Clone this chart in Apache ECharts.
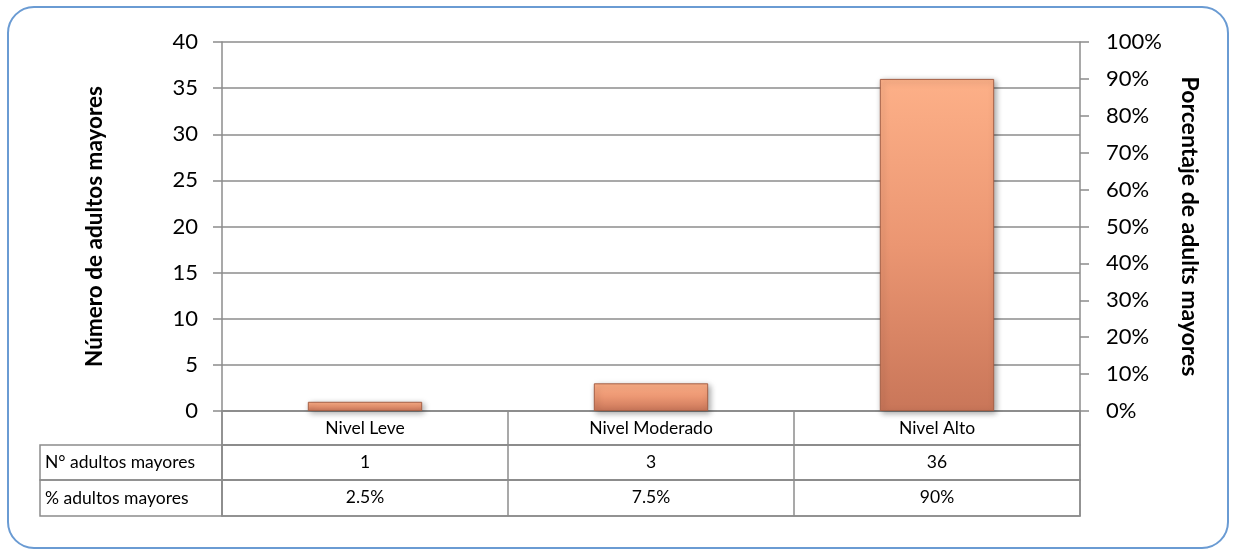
<!DOCTYPE html>
<html>
<head>
<meta charset="utf-8">
<script src="https://cdn.jsdelivr.net/npm/echarts@6/dist/echarts.min.js"></script>
<style>
  html, body { margin: 0; padding: 0; background: #fff; }
  #chart { width: 1235px; height: 551px; }
</style>
</head>
<body>
<div id="chart"></div>
<script>
// datos del gráfico
var categorias = ['Nivel Leve', 'Nivel Moderado', 'Nivel Alto'];
var numAdultos = [1, 3, 36];
var pctAdultos = [2.5, 7.5, 90];
var filasTabla = ['N° adultos mayores', '% adultos mayores'];

var gris = '#8c8c8c';
var fuente = 'Lato, "Open Sans", sans-serif';

var myChart = echarts.init(document.getElementById('chart'));

// celda de tabla: eje de categorías arriba, etiquetas dentro
function ejeTabla(grid, data) {
  return {
    type: 'category', gridIndex: grid, position: 'top', data: data,
    axisLine: { show: true, lineStyle: { color: gris, width: 1.5 } },
    axisTick: { show: false },
    axisLabel: { inside: true, interval: 0, margin: 8, fontSize: 17.5, color: '#000', fontFamily: fuente },
    splitLine: { show: true, interval: 0, lineStyle: { color: gris, width: 1.5 } }
  };
}
function yOculto(grid) {
  return { type: 'value', gridIndex: grid, min: 0, max: 1, show: false };
}

var option = {
  animation: false,
  textStyle: { fontFamily: fuente },
  graphic: [{
    type: 'rect',
    shape: { x: 8, y: 7, width: 1220, height: 541, r: 26 },
    style: { fill: 'none', stroke: '#6a9bd3', lineWidth: 2 },
    z: -10
  }],
  grid: [
    { left: 222, right: 155, top: 42, height: 369 },
    { left: 222, right: 155, top: 411, height: 34, show: true, borderColor: gris, borderWidth: 1.5 },
    { left: 222, right: 155, top: 445, height: 35, show: true, borderColor: gris, borderWidth: 1.5 },
    { left: 222, right: 155, top: 480, height: 36, show: true, borderColor: gris, borderWidth: 1.5 },
    { left: 40, width: 182, top: 445, height: 35, show: true, borderColor: gris, borderWidth: 1.5 },
    { left: 40, width: 182, top: 480, height: 36, show: true, borderColor: gris, borderWidth: 1.5 }
  ],
  xAxis: [
    {
      type: 'category', gridIndex: 0, data: categorias,
      axisLine: { show: true, lineStyle: { color: gris, width: 1.5 } },
      axisTick: { show: false },
      axisLabel: { show: false }
    },
    ejeTabla(1, categorias),
    ejeTabla(2, numAdultos.map(String)),
    ejeTabla(3, pctAdultos.map(function (v) { return v + '%'; })),
    { type: 'value', gridIndex: 4, show: false },
    { type: 'value', gridIndex: 5, show: false }
  ],
  yAxis: [
    {
      type: 'value', gridIndex: 0, min: 0, max: 40, interval: 5,
      name: 'Número de adultos mayores', nameLocation: 'middle', nameGap: 116,
      nameTextStyle: { fontSize: 22.5, fontWeight: 'bold', color: '#000' },
      axisLine: { show: true, lineStyle: { color: gris, width: 1.5 } },
      axisTick: { show: true, length: 9, lineStyle: { color: gris, width: 1.5 } },
      axisLabel: { fontSize: 22, color: '#000', margin: 24 },
      splitLine: { show: true, lineStyle: { color: gris, width: 1.5 } }
    },
    {
      type: 'value', gridIndex: 0, position: 'right', min: 0, max: 100, interval: 10,
      name: 'Porcentaje de adults mayores', nameLocation: 'middle', nameGap: 98, nameRotate: -90,
      nameTextStyle: { fontSize: 23, fontWeight: 'bold', color: '#000' },
      axisLine: { show: true, lineStyle: { color: gris, width: 1.5 } },
      axisTick: { show: true, length: 9, lineStyle: { color: gris, width: 1.5 } },
      axisLabel: { fontSize: 22, color: '#000', margin: 26, formatter: '{value}%' },
      splitLine: { show: false }
    },
    yOculto(1), yOculto(2), yOculto(3),
    {
      type: 'category', gridIndex: 4, data: [filasTabla[0]],
      axisLine: { show: false }, axisTick: { show: false },
      axisLabel: { inside: true, margin: 5, fontSize: 17.5, color: '#000' }
    },
    {
      type: 'category', gridIndex: 5, data: [filasTabla[1]],
      axisLine: { show: false }, axisTick: { show: false },
      axisLabel: { inside: true, margin: 5, fontSize: 17.5, color: '#000' }
    }
  ],
  series: [{
    name: 'N° adultos mayores',
    type: 'bar',
    xAxisIndex: 0, yAxisIndex: 0,
    barWidth: '40%',
    data: numAdultos,
    itemStyle: {
      color: new echarts.graphic.LinearGradient(0, 0, 0, 1, [
        { offset: 0, color: '#fdb088' },
        { offset: 0.5, color: '#eb9672' },
        { offset: 1, color: '#c97659' }
      ]),
      borderColor: '#a55f45',
      borderWidth: 1,
      shadowBlur: 6,
      shadowOffsetX: 2,
      shadowOffsetY: 2,
      shadowColor: 'rgba(0,0,0,0.35)'
    }
  }]
};

myChart.setOption(option);
</script>
</body>
</html>
